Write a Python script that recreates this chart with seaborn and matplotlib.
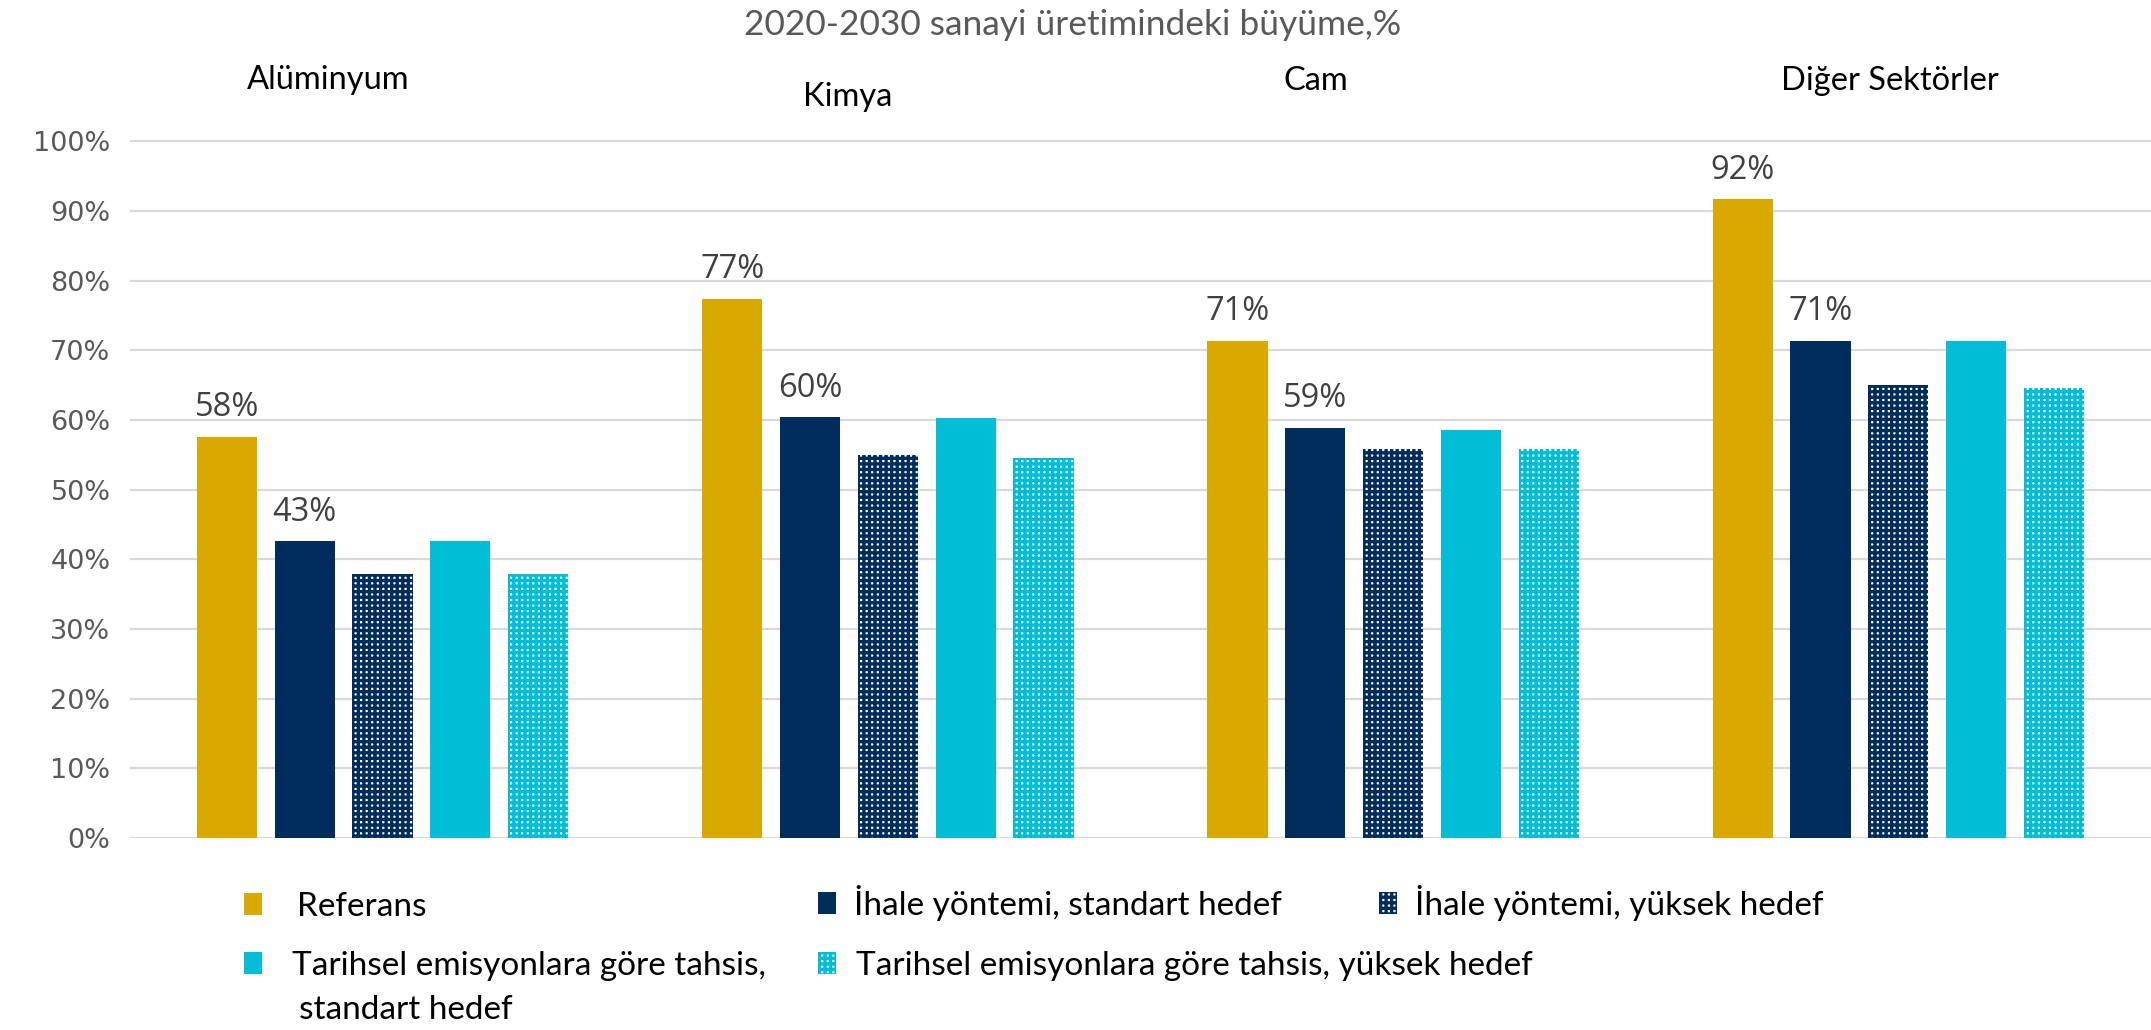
import matplotlib
matplotlib.use("Agg")
import matplotlib.pyplot as plt
import seaborn as sns
import pandas as pd
from matplotlib.ticker import PercentFormatter
from matplotlib.patches import Patch

sns.set_theme(style="white")
plt.rcParams['font.family'] = ['Lato', 'DejaVu Sans']
plt.rcParams['hatch.linewidth'] = 2.4

# ---- data ----
categories = ["Alüminyum", "Kimya", "Cam", "Diğer Sektörler"]
series = ["Referans",
          "İhale yöntemi, standart hedef",
          "İhale yöntemi, yüksek hedef",
          "Tarihsel emisyonlara göre tahsis, standart hedef",
          "Tarihsel emisyonlara göre tahsis, yüksek hedef"]
referans = [0.576, 0.774, 0.714, 0.917]
ihale_standart = [0.426, 0.604, 0.589, 0.714]
ihale_yuksek = [0.379, 0.550, 0.558, 0.650]
tarihsel_standart = [0.426, 0.603, 0.585, 0.713]
tarihsel_yuksek = [0.379, 0.546, 0.558, 0.646]
colors = ["#D9A900", "#002D5C", "#002D5C", "#00BED6", "#00BED6"]
hatched = [False, False, True, False, True]
title = "2020-2030 sanayi üretimindeki büyüme,%"

values = [referans, ihale_standart, ihale_yuksek, tarihsel_standart, tarihsel_yuksek]
rows = []
for s, vals in zip(series, values):
    for c, v in zip(categories, vals):
        rows.append({"kategori": c, "seri": s, "deger": v})
df = pd.DataFrame(rows)

fig = plt.figure(figsize=(21.51, 10.30), dpi=100)
ax = fig.add_axes([0.0604, 0.1864, 0.9396, 0.6777])

sns.barplot(data=df, x="kategori", y="deger", hue="seri", hue_order=series,
            order=categories, palette=colors, width=0.77, gap=0.227,
            ax=ax, legend=False, saturation=1, linewidth=0)

for cont, col, h in zip(ax.containers, colors, hatched):
    for p in cont.patches:
        p.set_linewidth(0)
        if h:
            p.set_facecolor("white")
            p.set_edgecolor(col)
            p.set_hatch("+++")

ax.set_xlim(-0.5, 3.5)
ax.set_ylim(0, 1.002)
ax.set_yticks([i / 10 for i in range(11)])
ax.yaxis.set_major_formatter(PercentFormatter(1.0, decimals=0))
ax.tick_params(axis="y", length=0, pad=14, labelsize=19.5, labelcolor="#595959")
for t in ax.get_yticklabels():
    t.set_fontfamily("DejaVu Sans")
ax.set_xticks([])
ax.set_xlabel("")
ax.set_ylabel("")
ax.grid(axis="y", color="#D9D9D9", linewidth=1.6)
ax.set_axisbelow(True)
for sp in ax.spines.values():
    sp.set_visible(False)

for cont in ax.containers[:2]:
    ax.bar_label(cont, labels=[f"{v*100:.0f}%" for v in cont.datavalues],
                 padding=9, fontsize=23.5, color="#404040", family="Open Sans")

# title and category headings
fig.text(0.4988, 0.9757, title, ha="center", va="center", fontsize=25.5,
         color="#595959")
cat_pos = [(0.1525, 0.9223), (0.3942, 0.9058), (0.6118, 0.9214), (0.8787, 0.9214)]
for c, (x, y) in zip(categories, cat_pos):
    fig.text(x, y, c, ha="center", va="center", fontsize=23.5, color="black")

# legend entries
def handle(i):
    if hatched[i]:
        return Patch(facecolor="white", edgecolor=colors[i], hatch="+++", linewidth=0)
    return Patch(facecolor=colors[i], edgecolor=colors[i], linewidth=0)

FS = 24
leg_specs = [
    (0, series[0], 244, 907, 1.03),
    (1, series[1], 818, 903, 0.52),
    (2, series[2], 1379, 903, 0.52),
    (3, "Tarihsel emisyonlara göre tahsis,", 244, 966, 0.88),
    (4, series[4], 818, 966, 0.58),
]
W, H = 2151, 1030
for i, lab, px, py, pad in leg_specs:
    fig.legend(handles=[handle(i)], labels=[lab], loc="center left",
               bbox_to_anchor=(px / W, 1 - py / H), frameon=False,
               borderpad=0, borderaxespad=0, handlelength=0.55, handleheight=0.65,
               handletextpad=pad, fontsize=FS, labelcolor="black")
fig.text(299 / W, 1 - 1010 / H, "standart hedef", ha="left", va="center",
         fontsize=FS, color="black")

fig.savefig("out.png", dpi=100)
